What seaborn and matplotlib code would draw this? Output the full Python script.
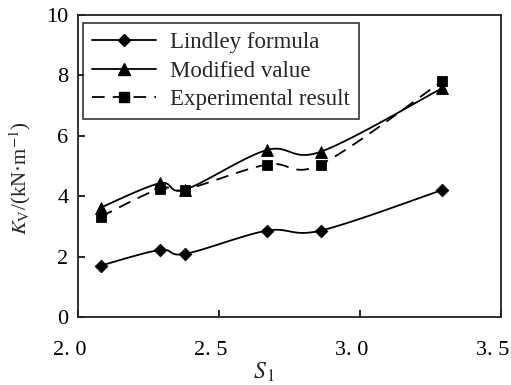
import numpy as np
import pandas as pd
import matplotlib
matplotlib.use("Agg")
import matplotlib.pyplot as plt
import matplotlib.transforms as mtransforms
import seaborn as sns
from matplotlib.lines import Line2D

# data
s1 = [2.08, 2.29, 2.38, 2.67, 2.86, 3.29]
lindley = [1.70, 2.22, 2.09, 2.86, 2.86, 4.20]
modified = [3.62, 4.43, 4.22, 5.53, 5.47, 7.57]
experimental = [3.32, 4.25, 4.22, 5.05, 5.05, 7.80]
series_names = ["Lindley formula", "Modified value", "Experimental result"]
xticks = [2.0, 2.5, 3.0, 3.5]
xtick_labels = ["2. 0", "2. 5", "3. 0", "3. 5"]
yticks = [0, 2, 4, 6, 8, 10]

sns.set_style("ticks")
plt.rcParams["font.family"] = ["Liberation Serif", "DejaVu Serif"]
plt.rcParams["mathtext.fontset"] = "stix"

fig = plt.figure(figsize=(5.11, 3.85), dpi=100)
ax = fig.add_axes([0.1526, 0.1766, 0.8278, 0.7844])


def smooth(x, y, n=24):
    """Bezier smoothing through the data (like spreadsheet 'smoothed line')."""
    x = np.asarray(x, float); y = np.asarray(y, float)
    px, py = [], []
    m = len(x)
    for i in range(m - 1):
        x0, y0 = (x[i - 1], y[i - 1]) if i > 0 else (x[i], y[i])
        x3, y3 = (x[i + 2], y[i + 2]) if i + 2 < m else (x[i + 1], y[i + 1])
        c1x = x[i] + (x[i + 1] - x0) / 6; c1y = y[i] + (y[i + 1] - y0) / 6
        c2x = x[i + 1] - (x3 - x[i]) / 6; c2y = y[i + 1] - (y3 - y[i]) / 6
        t = np.linspace(0, 1, n, endpoint=(i == m - 2))
        bx = (1-t)**3*x[i] + 3*(1-t)**2*t*c1x + 3*(1-t)*t**2*c2x + t**3*x[i+1]
        by = (1-t)**3*y[i] + 3*(1-t)**2*t*c1y + 3*(1-t)*t**2*c2y + t**3*y[i+1]
        px.extend(bx); py.extend(by)
    return np.array(px), np.array(py)


styles = [
    dict(marker="D", ms=6.5, ls="-"),
    dict(marker="^", ms=8.5, ls="-"),
    dict(marker="s", ms=7, ls=(0, (7, 4.5))),
]
handles = []
for name, vals, st in zip(series_names, [lindley, modified, experimental], styles):
    cx, cy = smooth(s1, vals)
    curve = pd.DataFrame({"x": cx, "y": cy})
    sns.lineplot(data=curve, x="x", y="y", ax=ax, sort=False, color="black",
                 lw=1.3, linestyle=st["ls"], estimator=None)
    pts = pd.DataFrame({"x": s1, "y": vals})
    sns.scatterplot(data=pts, x="x", y="y", ax=ax, marker=st["marker"],
                    s=st["ms"] ** 2, color="black", edgecolor="black", zorder=5)
    handles.append(Line2D([], [], color="black", lw=1.3, linestyle=st["ls"],
                          marker=st["marker"], markersize=st["ms"]))

ax.set_xlim(2.0, 3.5)
ax.set_ylim(0, 10)
ax.set_xticks(xticks)
ax.set_xticklabels(xtick_labels)
ax.set_yticks(yticks)
ax.tick_params(direction="in", length=5, width=1.2, labelsize=16, colors="black",
               pad=7)
ax.tick_params(axis="x", pad=17)
shift = mtransforms.ScaledTranslation(-8 / 100, 0, fig.dpi_scale_trans)
for lab in ax.get_xticklabels():
    lab.set_transform(lab.get_transform() + shift)
for sp in ax.spines.values():
    sp.set_visible(True)
    sp.set_linewidth(1.3)
    sp.set_color("#222222")

ax.set_xlabel(r"$S_{\,\rm 1}$", fontsize=17)
ax.xaxis.set_label_coords(0.44, -0.145)
ax.set_ylabel(r"$K_{\rm V}$/(kN·m$^{-1}$)", fontsize=15)
ax.yaxis.set_label_coords(-0.106, 0.46)

leg = ax.legend(handles, series_names, loc="upper left", fontsize=16.5,
                frameon=True, fancybox=False, edgecolor="black",
                handlelength=2.8, handletextpad=0.6, labelspacing=0.33,
                borderpad=0.4, borderaxespad=0.0,
                bbox_to_anchor=(0.012, 0.974))
leg.get_frame().set_linewidth(1.2)

fig.savefig("out.png", dpi=100)
